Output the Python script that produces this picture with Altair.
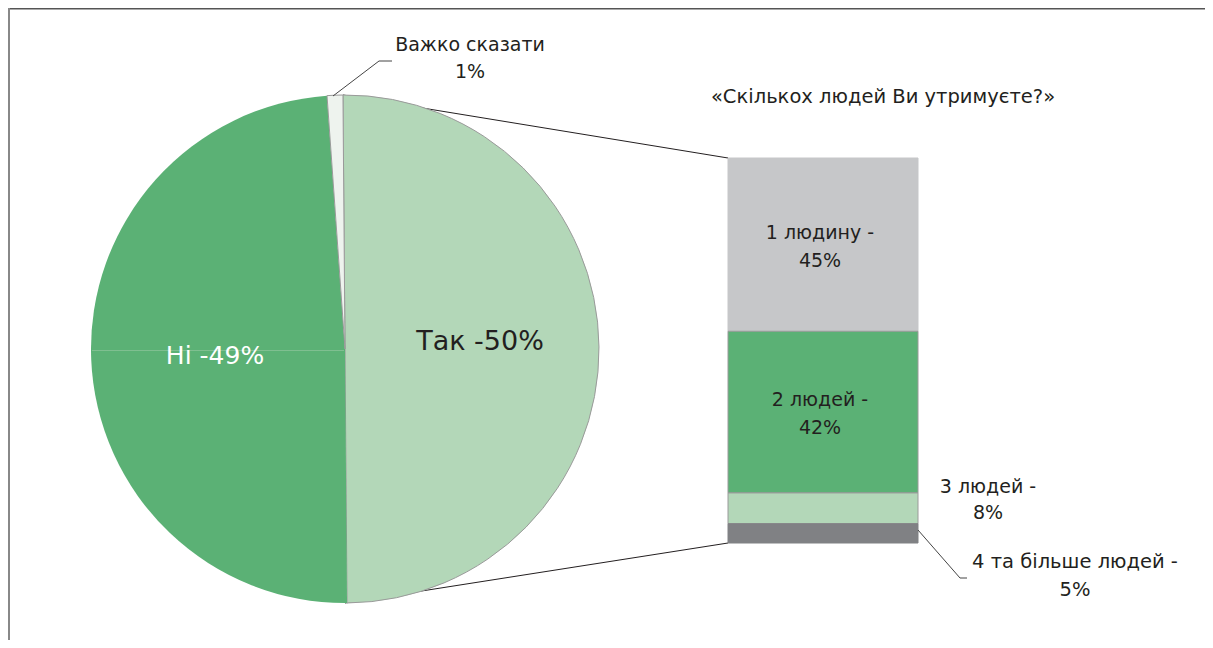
import altair as alt
import pandas as pd

# ---------------- data ----------------
pie_cats = ["Так", "Ні", "Важко сказати"]
pie_vals = [50, 49, 1]
pie_colors = ["#b3d7b8", "#5bb175", "#eef3ee"]

bar_cats = ["1 людину", "2 людей", "3 людей", "4 та більше людей"]
bar_vals = [45, 42, 8, 5]
bar_colors = ["#c6c7c9", "#5bb175", "#b3d7b8", "#808184"]
bar_strokes = ["#c6c7c9", "#9a9a9a", "#9a9a9a", "#808184"]

title_text = "«Скількох людей Ви утримуєте?»"

# ---------------- layout (page px) ----------------
OFF = 8
W, H = 1197, 632
CX, CY, R = 345 - OFF, 349 - OFF, 254
BX0, BX1 = 728 - OFF, 918 - OFF
BTOP, BBOT = 158 - OFF, 543 - OFF
FONT = "DejaVu Sans"
INK = "#231f20"

pie_df = pd.DataFrame({"pcat": pie_cats, "value": pie_vals, "idx": range(len(pie_cats))})
cum = []
s = 0
for v in bar_vals:
    cum.append(s)
    s += v
bar_df = pd.DataFrame({
    "bcat": bar_cats,
    "value": bar_vals,
    "idx": range(len(bar_cats)),
    "top": [100 - c for c in cum],
    "bottom": [100 - c - v for c, v in zip(cum, bar_vals)],
    "mid": [100 - c - v / 2 for c, v in zip(cum, bar_vals)],
    "label": [f"{c} -\n{v}%" for c, v in zip(bar_cats, bar_vals)],
})

one = alt.Data(values=[{}])
yscale = alt.Scale(domain=[0, 100], range=[BBOT, BTOP])

shift = -0.008
pie = alt.Chart(pie_df).mark_arc(radius=R, stroke="#9a9a9a").encode(
    theta=alt.Theta("value:Q", stack=True, scale=alt.Scale(range=[shift, 6.283185 + shift])),
    order=alt.Order("idx:Q"),
    color=alt.Color("pcat:N", scale=alt.Scale(domain=pie_cats, range=pie_colors), legend=None),
    strokeWidth=alt.condition(alt.datum.pcat == "Ні", alt.value(0), alt.value(1)),
    x=alt.value(CX),
    y=alt.value(CY),
)

seam = alt.Chart(one).mark_rule(color="#7fbf90", strokeWidth=1).encode(
    x=alt.value(CX - R + 1), x2=alt.value(CX - 1), y=alt.value(CY + 1.5)
)

bar = alt.Chart(bar_df).mark_bar(strokeWidth=1).encode(
    x=alt.value(BX0),
    x2=alt.value(BX1),
    y=alt.Y("top:Q", scale=yscale, axis=None),
    y2="bottom:Q",
    fill=alt.Fill("bcat:N", scale=alt.Scale(domain=bar_cats, range=bar_colors), legend=None),
    stroke=alt.Stroke("bcat:N", scale=alt.Scale(domain=bar_cats, range=bar_strokes), legend=None),
)

bar_text = alt.Chart(bar_df).transform_filter(alt.datum.idx < 2).mark_text(
    font=FONT, fontSize=19, color=INK, lineBreak="\n", lineHeight=28, baseline="middle",
    align="center", dy=-12
).encode(
    x=alt.value((BX0 + BX1) / 2 - 3),
    y=alt.Y("mid:Q", scale=yscale, axis=None),
    text="label:N",
)


def label(txt, x, y, size=19, color=INK, lh=27):
    return alt.Chart(one).mark_text(
        text=txt, font=FONT, fontSize=size, color=color, lineBreak="\n", lineHeight=lh,
        align="center", baseline="middle"
    ).encode(x=alt.value(x - OFF), y=alt.value(y - OFF))


def seg(x1, y1, x2, y2, color="#231f20", w=1):
    return alt.Chart(one).mark_rule(color=color, strokeWidth=w).encode(
        x=alt.value(x1 - OFF), y=alt.value(y1 - OFF), x2=alt.value(x2 - OFF), y2=alt.value(y2 - OFF)
    )


layers = [
    seg(343, 95, BX0 + OFF, BTOP + OFF),
    seg(345, 603, BX0 + OFF, BBOT + OFF),
    pie, seam, bar, bar_text,
    seg(333, 96, 379, 61, color="#444", w=1),
    seg(379, 61, 392, 61, color="#444", w=1),
    seg(918, 530, 960, 578, color="#444", w=1),
    seg(960, 578, 967, 578, color="#444", w=1),
    label(title_text, 883, 97, size=19.5),
    label(f"{pie_cats[2]}\n{pie_vals[2]}%", 470, 45, size=19),
    label(f"{pie_cats[0]} -{pie_vals[0]}%", 480, 342, size=27),
    label(f"{pie_cats[1]} -{pie_vals[1]}%", 215, 356, size=25, color="white"),
    label(f"{bar_cats[2]} -\n{bar_vals[2]}%", 988, 487, size=19, lh=26),
    label(f"{bar_cats[3]} -\n{bar_vals[3]}%", 1075, 562, size=19.5, lh=28),
    seg(8, 8.75, 1213, 8.75, color="#555", w=1.5),
    seg(9, 8, 9, 648, color="#888", w=2),
]

chart = alt.layer(*layers).properties(
    width=W, height=H, padding=0, autosize=alt.AutoSizeParams(type="none")
).configure_view(stroke=None)

chart.save("out.html", embed_options={"renderer": "svg", "actions": False})
